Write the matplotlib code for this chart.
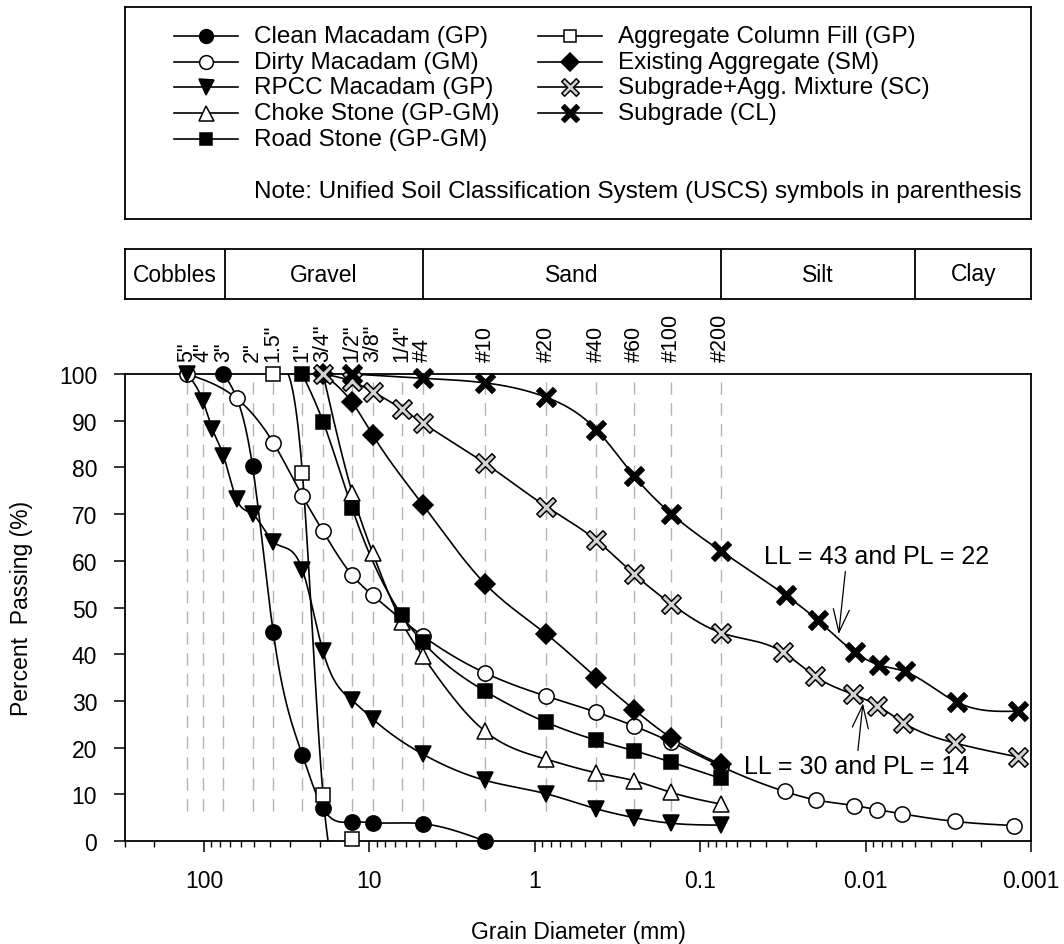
import numpy as np
import matplotlib
matplotlib.use("Agg")
import matplotlib.pyplot as plt
from matplotlib.path import Path
from matplotlib.ticker import FixedLocator, FuncFormatter, LogLocator, NullFormatter, NullLocator

plt.rcParams['font.family'] = ['Liberation Sans', 'DejaVu Sans']
plt.rcParams['font.size'] = 16.5

# sieve openings (mm)
sieve_names = ['5"', '4"', '3"', '2"', '1.5"', '1"', '3/4"', '1/2"', '3/8"', '1/4"',
               '#4', '#10', '#20', '#40', '#60', '#100', '#200']
sieve_mm = [127.0, 101.6, 76.2, 50.8, 38.1, 25.4, 19.05, 12.7, 9.525, 6.35,
            4.75, 2.0, 0.85, 0.425, 0.25, 0.15, 0.075]

# soil classes (boundaries in mm)
zone_names = ['Cobbles', 'Gravel', 'Sand', 'Silt', 'Clay']
zone_edges = [300.0, 75.0, 4.75, 0.075, 0.005, 0.001]

# gradation results: grain size (mm) / percent passing
clean_d = [76.2, 50.8, 38.1, 25.4, 19.05, 12.7, 9.525, 4.75, 2.0]
clean_p = [100, 80.2, 44.7, 18.4, 7.0, 4.1, 3.9, 3.7, 0.0]

dirty_d = [127.0, 63.5, 38.1, 25.4, 19.05, 12.7, 9.525, 4.75, 2.0, 0.85, 0.425, 0.25, 0.15,
           0.075, 0.0308, 0.0200, 0.0118, 0.0085, 0.0060, 0.0029, 0.00126]
dirty_p = [100, 94.8, 85.3, 73.9, 66.3, 56.9, 52.6, 43.9, 36.0, 31.0, 27.6, 24.6, 21.2,
           16.0, 10.6, 8.8, 7.6, 6.7, 5.8, 4.2, 3.3]

rpcc_d = [127.0, 101.6, 88.9, 76.2, 63.5, 50.8, 38.1, 25.4, 19.05, 12.7, 9.525, 4.75,
          2.0, 0.85, 0.425, 0.25, 0.15, 0.075]
rpcc_p = [100, 94.3, 88.2, 82.5, 73.2, 70.0, 64.1, 58.1, 40.6, 30.1, 26.1, 18.6,
          13.0, 10.1, 6.9, 5.0, 3.8, 3.4]

choke_d = [19.05, 12.7, 9.525, 6.35, 4.75, 2.0, 0.85, 0.425, 0.25, 0.15, 0.075]
choke_p = [100, 74.6, 61.6, 46.8, 39.6, 23.5, 17.5, 14.6, 12.9, 10.4, 7.9]

road_d = [25.4, 19.05, 12.7, 6.35, 4.75, 2.0, 0.85, 0.425, 0.25, 0.15, 0.075]
road_p = [100, 89.8, 71.2, 48.3, 42.6, 32.1, 25.4, 21.6, 19.3, 16.9, 13.4]

acf_d = [38.1, 25.4, 19.05, 12.7]
acf_p = [100, 78.8, 9.9, 0.4]

exist_d = [19.05, 12.7, 9.525, 4.75, 2.0, 0.85, 0.425, 0.25, 0.15, 0.075]
exist_p = [100, 93.9, 86.9, 72.0, 55.1, 44.3, 35.0, 28.1, 22.1, 16.4]

mix_d = [19.05, 12.7, 9.525, 6.35, 4.75, 2.0, 0.85, 0.425, 0.25, 0.15, 0.075,
         0.0315, 0.0203, 0.0119, 0.0085, 0.0059, 0.0029, 0.0012]
mix_p = [100, 98.4, 96.2, 92.5, 89.5, 80.9, 71.6, 64.4, 57.1, 50.8, 44.6,
         40.4, 35.3, 31.4, 29.0, 25.3, 21.0, 18.0]

subg_d = [12.7, 4.75, 2.0, 0.85, 0.425, 0.25, 0.15, 0.075,
          0.0304, 0.0195, 0.0116, 0.0083, 0.0058, 0.0028, 0.0012]
subg_p = [100, 99.1, 98.1, 95.0, 88.1, 78.1, 70.1, 62.1,
          52.6, 47.3, 40.4, 37.7, 36.3, 29.7, 27.8]


def spline(d, p, n=40):
    # natural cubic spline of percent passing against -log10(size)
    u = -np.log10(np.asarray(d, float))
    y = np.asarray(p, float)
    m = len(u)
    h = np.diff(u)
    A = np.zeros((m, m))
    r = np.zeros(m)
    A[0, 0] = A[-1, -1] = 1
    for i in range(1, m - 1):
        A[i, i - 1] = h[i - 1]
        A[i, i] = 2 * (h[i - 1] + h[i])
        A[i, i + 1] = h[i]
        r[i] = 3 * ((y[i + 1] - y[i]) / h[i] - (y[i] - y[i - 1]) / h[i - 1])
    c = np.linalg.solve(A, r)
    b = (y[1:] - y[:-1]) / h - h * (2 * c[:-1] + c[1:]) / 3
    k = (c[1:] - c[:-1]) / (3 * h)
    uu, yy = [], []
    for i in range(m - 1):
        t = np.linspace(0, h[i], n)
        uu.append(u[i] + t)
        yy.append(y[i] + b[i] * t + c[i] * t ** 2 + k[i] * t ** 3)
    return 10 ** (-np.concatenate(uu)), np.concatenate(yy)


def cross_marker(w=0.1):
    # diagonal cross with thin arms
    L = 0.5
    pts = np.array([(w, w), (w, L), (-w, L), (-w, w), (-L, w), (-L, -w), (-w, -w),
                    (-w, -L), (w, -L), (w, -w), (L, -w), (L, w), (w, w)])
    a = np.pi / 4
    rot = np.array([[np.cos(a), -np.sin(a)], [np.sin(a), np.cos(a)]])
    return Path(pts @ rot.T, closed=True)


xmark = cross_marker()

fig = plt.figure(figsize=(10.64, 9.45), dpi=100)
W, H = 1064.0, 945.0
ax = fig.add_axes([125 / W, 1 - 842 / H, 906 / W, 467 / H])

ax.set_xscale('log')
ax.set_xlim(300, 0.001)
ax.set_ylim(0, 100)

for d in sieve_mm:
    ax.plot([d, d], [6.5, 100], color='#b4b4b4', lw=1.0, dashes=(9, 6), zorder=1)

series = [
    ('Clean Macadam (GP)', clean_d, clean_p, 'o', 'black', 11),
    ('Dirty Macadam (GM)', dirty_d, dirty_p, 'o', 'white', 11),
    ('RPCC Macadam (GP)', rpcc_d, rpcc_p, 'v', 'black', 12),
    ('Choke Stone (GP-GM)', choke_d, choke_p, '^', 'white', 12),
    ('Road Stone (GP-GM)', road_d, road_p, 's', 'black', 10),
    ('Aggregate Column Fill (GP)', acf_d, acf_p, 's', 'white', 10),
    ('Existing Aggregate (SM)', exist_d, exist_p, 'D', 'black', 10.5),
    ('Subgrade+Agg. Mixture (SC)', mix_d, mix_p, xmark, '#d2d2d2', 14),
    ('Subgrade (CL)', subg_d, subg_p, xmark, 'black', 14),
]

for i, (name, d, p, mk, fc, ms) in enumerate(series):
    xs, ys = spline(d, p)
    ax.plot(xs, ys, color='black', lw=1.2, zorder=3 + i)
    ax.plot(d, p, linestyle='none', marker=mk, ms=ms, mfc=fc, mec='black',
            mew=1.1, zorder=20 + i, clip_on=False)

# sieve labels along the top
for name, d in zip(sieve_names, sieve_mm):
    ax.annotate(name, xy=(d, 1.0), xycoords=('data', 'axes fraction'),
                xytext=(0, 9), textcoords='offset points',
                rotation=90, ha='center', va='bottom', fontsize=15.5)

# Atterberg limits notes
arrow = dict(arrowstyle='->,head_length=1.0,head_width=0.35', color='black', lw=0.9)
ax.text(0.0409, 61.1, 'LL = 43 and PL = 22', ha='left', va='center', fontsize=18)
ax.annotate('', xy=(0.0146, 43.7), xytext=(0.0132, 58.3), arrowprops=arrow)
ax.text(0.0543, 16.1, 'LL = 30 and PL = 14', ha='left', va='center', fontsize=18)
ax.annotate('', xy=(0.01033, 30.1), xytext=(0.01117, 18.8), arrowprops=arrow)

ax.xaxis.set_major_locator(FixedLocator([100, 10, 1, 0.1, 0.01, 0.001]))
ax.xaxis.set_major_formatter(FuncFormatter(lambda v, pos: '%g' % v))
ax.xaxis.set_minor_locator(LogLocator(base=10, subs=np.arange(2, 10), numticks=20))
ax.xaxis.set_minor_formatter(NullFormatter())
ax.set_yticks(np.arange(0, 101, 10))
ax.yaxis.set_minor_locator(NullLocator())
ax.tick_params(axis='both', which='major', direction='out', length=8, width=1.1,
               pad=12, labelsize=16.5)
ax.tick_params(axis='x', which='minor', direction='out', length=4.5, width=1.0)
ax.tick_params(top=False, right=False, which='both')
for s in ax.spines.values():
    s.set_linewidth(1.3)

ax.set_xlabel('Grain Diameter (mm)', fontsize=16.5, labelpad=20)
ax.set_ylabel('Percent  Passing (%)', fontsize=16.5, labelpad=19)

# soil classification strip
az = fig.add_axes([125 / W, 1 - 300 / H, 906 / W, 50 / H])
az.set_xscale('log')
az.set_xlim(300, 0.001)
az.set_ylim(0, 1)
for e in zone_edges[1:-1]:
    az.axvline(e, color='black', lw=1.3)
for i, name in enumerate(zone_names):
    xc = np.sqrt(zone_edges[i] * zone_edges[i + 1])
    az.text(xc, 0.5, name, ha='center', va='center', fontsize=16.5)
az.xaxis.set_major_locator(NullLocator())
az.xaxis.set_minor_locator(NullLocator())
az.set_yticks([])
for s in az.spines.values():
    s.set_linewidth(1.3)

# legend panel, laid out in pixel units of the panel
lx0, lx1, ly0, ly1 = 125.0, 1031.0, 8.0, 220.0
al = fig.add_axes([lx0 / W, 1 - ly1 / H, (lx1 - lx0) / W, (ly1 - ly0) / H])
al.set_xlim(lx0, lx1)
al.set_ylim(ly1, ly0)
al.set_xticks([])
al.set_yticks([])
for s in al.spines.values():
    s.set_linewidth(1.3)

col_x = [174, 538]
row_y = [37, 63, 88, 114, 140]
for i, (name, d, p, mk, fc, ms) in enumerate(series):
    col, row = (0, i) if i < 5 else (1, i - 5)
    x0, y = col_x[col], row_y[row]
    al.plot([x0, x0 + 64], [y, y], color='black', lw=1.2)
    al.plot([x0 + 32], [y], marker=mk, ms=ms * 0.9, mfc=fc, mec='black', mew=1.1)
    al.text(x0 + 80, y, name, ha='left', va='center', fontsize=17.5)
al.text(254, 192, 'Note: Unified Soil Classification System (USCS) symbols in parenthesis',
        ha='left', va='center', fontsize=17.5)

fig.savefig('out.png', dpi=100)
